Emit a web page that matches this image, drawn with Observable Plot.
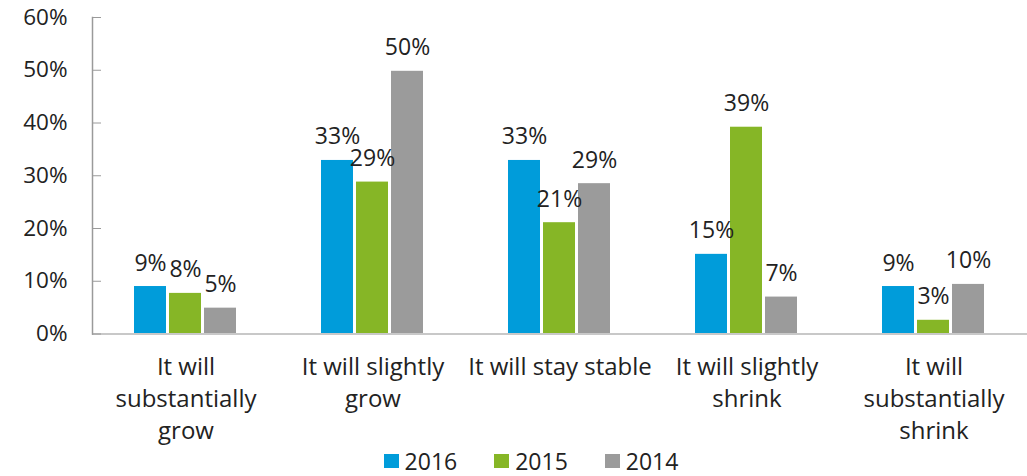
<!DOCTYPE html>
<html><head><meta charset="utf-8">
<script src="https://cdn.jsdelivr.net/npm/d3@7"></script>
<script src="https://cdn.jsdelivr.net/npm/@observablehq/plot@0.6"></script>
<style>
html,body{margin:0;padding:0;background:#fff;}
body{font-family:"Open Sans",sans-serif;color:#222;}
#legend{display:flex;justify-content:center;align-items:center;gap:37px;font-size:23px;line-height:24px;height:24px;padding-left:35px;}
#legend .item{display:flex;align-items:center;gap:6px;}
#legend .sw{width:15px;height:14px;display:inline-block;}
</style></head><body>
<div id="chart"></div>
<div id="legend"></div>
<script>
const categories = ["It will\nsubstantially\ngrow", "It will slightly\ngrow", "It will stay stable", "It will slightly\nshrink", "It will\nsubstantially\nshrink"];
const series = ["2016", "2015", "2014"];
const colors = ["#009CDA", "#86B626", "#9B9B9B"];
const values2016 = [9.0, 32.9, 32.9, 15.1, 9.0];
const values2015 = [7.7, 28.8, 21.1, 39.2, 2.6];
const values2014 = [4.9, 49.8, 28.5, 7.0, 9.4];
const labels2016 = ["9%", "33%", "33%", "15%", "9%"];
const labels2015 = ["8%", "29%", "21%", "39%", "3%"];
const labels2014 = ["5%", "50%", "29%", "7%", "10%"];
const yTicks = [0, 10, 20, 30, 40, 50, 60];

const valuesBySeries = [values2016, values2015, values2014];
const labelsBySeries = [labels2016, labels2015, labels2014];
const data = [];
categories.forEach((c, i) => {
  series.forEach((s, j) => {
    data.push({category: c, series: s, value: valuesBySeries[j][i], label: labelsBySeries[j][i]});
  });
});

const chart = Plot.plot({
  width: 1027,
  height: 449,
  marginTop: 17,
  marginLeft: 91,
  marginRight: 0,
  marginBottom: 115.5,
  style: {fontFamily: "'Open Sans', sans-serif", fontSize: "23px", color: "#222", background: "white", overflow: "visible"},
  fx: {domain: categories, padding: 0, label: null, axis: null},
  x: {domain: series, paddingInner: 0.0833, paddingOuter: 1.1417, axis: null},
  y: {domain: [0, 60], axis: null},
  color: {domain: series, range: colors},
  marks: [
    Plot.barY(data, {fx: "category", x: "series", y: "value", fill: "series"}),
    Plot.text(data, {fx: "category", x: "series", y: "value", text: "label", dy: -16, lineAnchor: "bottom", fill: "#222", fontSize: 23}),
    Plot.ruleY([0], {stroke: "#c8c8c8", strokeWidth: 2}),
    Plot.frame({anchor: "left", facetAnchor: "left", stroke: "#9a9a9a", strokeWidth: 1.5}),
    Plot.axisY({ticks: yTicks, tickSize: -9, tickPadding: 34, tickFormat: d => d + "%", stroke: "#9a9a9a", fill: "#222", fontSize: 22.5, label: null}),
    Plot.axisFx({anchor: "bottom", tickSize: 0, tickPadding: 18, lineHeight: 1.33, label: null, fill: "#222", fontSize: 24})
  ]
});
document.getElementById("chart").appendChild(chart);

const legend = document.getElementById("legend");
series.forEach((s, j) => {
  const item = document.createElement("span");
  item.className = "item";
  const sw = document.createElement("span");
  sw.className = "sw";
  sw.style.background = colors[j];
  const t = document.createElement("span");
  t.textContent = s;
  item.appendChild(sw);
  item.appendChild(t);
  legend.appendChild(item);
});
</script>
</body></html>
